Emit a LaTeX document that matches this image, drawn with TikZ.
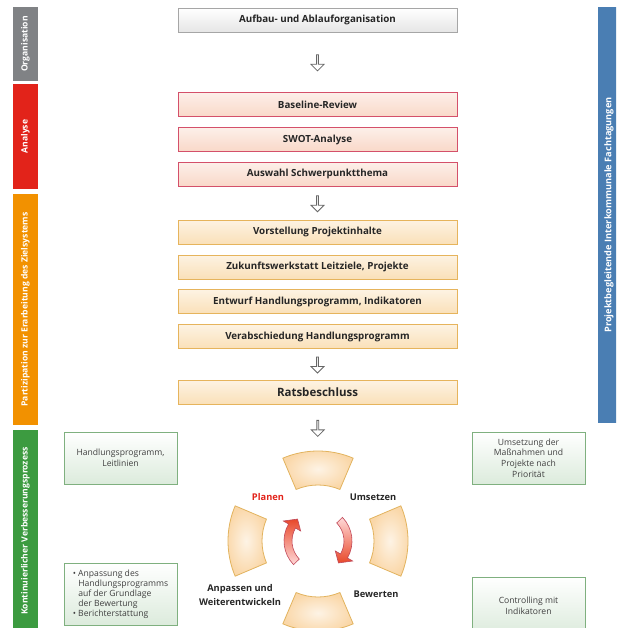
\documentclass[tikz,border=0pt]{standalone}
\usepackage{fontspec}
\setmainfont{Open Sans}
\usetikzlibrary{positioning, calc, shapes.arrows}

\definecolor{orgGray}{HTML}{808285}
\definecolor{anaRed}{HTML}{E2231A}
\definecolor{partOrange}{HTML}{F29100}
\definecolor{kvpGreen}{HTML}{3C9B40}
\definecolor{projBlue}{HTML}{4A7EB3}
\definecolor{grayLine}{HTML}{A6A6A6}
\definecolor{grayFill}{HTML}{E6E6E6}
\definecolor{redLine}{HTML}{D4506A}
\definecolor{redFill}{HTML}{F9D8C8}
\definecolor{orangeLine}{HTML}{E6B45C}
\definecolor{orangeFill}{HTML}{FAE0B8}
\definecolor{noteLine}{HTML}{7FB07F}
\definecolor{noteFill}{HTML}{DCEBDC}
\definecolor{segLine}{HTML}{E2B35E}
\definecolor{segFill}{HTML}{FAD7A8}
\definecolor{turnRed}{HTML}{E8482A}
\definecolor{turnLine}{HTML}{C04858}

\begin{document}
\begin{tikzpicture}[x=1pt, y=1pt,
    flowbox/.style={minimum width=279pt, minimum height=24pt, inner sep=0pt, line width=0.8pt, align=center, text=black!85, font=\bfseries\fontsize{9.8}{11}\selectfont},
    orgbox/.style={flowbox, draw=grayLine, top color=white, bottom color=grayFill},
    anabox/.style={flowbox, draw=redLine, top color=white!60!redFill, bottom color=redFill},
    partbox/.style={flowbox, draw=orangeLine, top color=white!60!orangeFill, bottom color=orangeFill},
    sidebar/.style={minimum height=25pt, inner sep=0pt, rotate=90, text=white, font=\bfseries\fontsize{8.6}{10}\selectfont},
    notebox/.style={draw=noteLine, top color=white, bottom color=noteFill, minimum width=113pt, inner sep=2pt, line width=0.8pt, align=center, text=black!75, font=\fontsize{8.6}{10.8}\selectfont},
    downarr/.style={single arrow, draw=black!60, fill=white, minimum width=13pt, minimum height=16pt, single arrow head extend=2.5pt, inner sep=0pt, rotate=-90, line width=0.8pt},
    segment/.style={draw=segLine, line width=0.8pt, inner color=white!70!segFill, outer color=segFill},
    turn/.style={draw=turnLine, line width=0.6pt},
    cyclabel/.style={text=black!85, font=\bfseries\fontsize{9.3}{12}\selectfont, align=center}
]
\clip (0,0) rectangle (616,-628);

% phase bars
\node[sidebar, fill=orgGray, minimum width=74pt] (organisation) at (25.5,-44) {Organisation};
\node[sidebar, fill=anaRed, minimum width=105pt] (analyse) at (25.5,-136.5) {Analyse};
\node[sidebar, fill=partOrange, minimum width=231pt] (partizipation) at (25.5,-309.5) {Partizipation zur Erarbeitung des Zielsystems};
\node[sidebar, fill=kvpGreen, minimum width=202pt] (kvp) at (25.5,-531) {Kontinuierlicher Verbesserungsprozess};
\node[sidebar, fill=projBlue, minimum width=416pt, minimum height=22pt, font=\bfseries\fontsize{9.2}{10}\selectfont] (tagung) at (609,-215) {Projektbegleitende Interkommunale Fachtagungen};

% process steps
\node[orgbox] (org) at (317.5,-20) {Aufbau- und Ablauforganisation};
\node[anabox, below=60pt of org] (base) {Baseline-Review};
\node[anabox, below=10pt of base] (swot) {SWOT-Analyse};
\node[anabox, below=10pt of swot] (wahl) {Auswahl Schwerpunktthema};
\node[partbox, below=33pt of wahl] (vor) {Vorstellung Projektinhalte};
\node[partbox, below=10pt of vor] (zuk) {Zukunftswerkstatt Leitziele, Projekte};
\node[partbox, below=10pt of zuk] (entw) {Entwurf Handlungsprogramm, Indikatoren};
\node[partbox, below=10pt of entw] (verab) {Verabschiedung Handlungsprogramm};
\node[partbox, below=31pt of verab, font=\bfseries\fontsize{11.5}{13}\selectfont] (rats) {Ratsbeschluss};

\coordinate (cyc) at (318,-541);
\coordinate (cyctop) at ([yshift=90pt]cyc);

\node[downarr] (a1) at ($(org.south)!0.5!(base.north)$) {};
\node[downarr] (a2) at ($(wahl.south)!0.5!(vor.north)$) {};
\node[downarr] (a3) at ($(verab.south)!0.5!(rats.north)$) {};
\node[downarr] (a4) at ($(rats.south)!0.5!(cyctop)$) {};

% cycle
\foreach \m in {90,0,-90,180}
  \draw[segment] ([shift={(\m-23:56pt)}]cyc) arc[start angle=\m-23, end angle=\m+23, radius=56pt]
    -- ([shift={(\m+23:90pt)}]cyc) arc[start angle=\m+23, end angle=\m-23, radius=90pt] -- cycle;

\draw[turn, top color=turnRed, bottom color=white!85!red] ([shift={(224:26pt)}]cyc) arc[start angle=224, end angle=150, radius=26pt]
  -- ([shift={(150:20pt)}]cyc) -- ([shift={(133:30pt)}]cyc) -- ([shift={(150:40pt)}]cyc)
  -- ([shift={(150:34pt)}]cyc) arc[start angle=150, end angle=224, radius=34pt] -- cycle;
\draw[turn, top color=white!85!red, bottom color=turnRed] ([shift={(44:26pt)}]cyc) arc[start angle=44, end angle=-30, radius=26pt]
  -- ([shift={(-30:20pt)}]cyc) -- ([shift={(-47:30pt)}]cyc) -- ([shift={(-30:40pt)}]cyc)
  -- ([shift={(-30:34pt)}]cyc) arc[start angle=-30, end angle=44, radius=34pt] -- cycle;

\node[cyclabel, text=anaRed] (planen) at (268,-497) {Planen};
\node[cyclabel] (umsetzen) at (373,-497) {Umsetzen};
\node[cyclabel] (bewerten) at (376,-594) {Bewerten};
\node[cyclabel, font=\bfseries\fontsize{9.3}{13.5}\selectfont] (anpassen) at (240,-595) {Anpassen und\\Weiterentwickeln};

% notes
\node[notebox, minimum height=52pt] (plannote) at (120.5,-458) {Handlungsprogramm,\\Leitlinien};
\node[notebox, minimum height=52pt] (umsetznote) at (528.5,-458) {Umsetzung der\\Maßnahmen und\\Projekte nach\\Priorität};
\node[notebox, minimum height=62pt, align=left, font=\fontsize{8.6}{10}\selectfont] (anpassnote) at (120.5,-594) {\textbullet\ Anpassung des\\\hphantom{\textbullet\ }Handlungsprogramms\\\hphantom{\textbullet\ }auf der Grundlage\\\hphantom{\textbullet\ }der Bewertung\\\textbullet\ Berichterstattung};
\node[notebox, minimum height=58pt] (controlnote) at (528.5,-606) {Controlling mit\\Indikatoren};
\end{tikzpicture}
\end{document}
